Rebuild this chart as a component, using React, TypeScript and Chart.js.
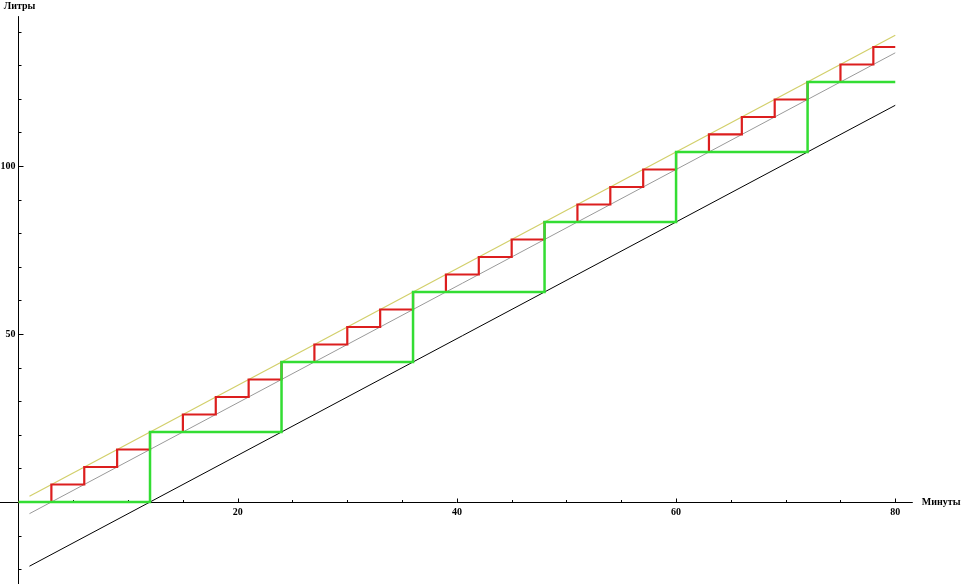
import React, { useEffect, useRef } from "react";
import { Chart, registerables } from "chart.js";

Chart.register(...registerables);

// Red step function: jump every 3 minutes
const redTimes = [0, 3, 6, 9, 12, 15, 18, 21, 24, 27, 30, 33, 36, 39, 42, 45, 48, 51, 54, 57, 60, 63, 66, 69, 72, 75, 78, 80];
const redValues = [0, 5.21, 10.42, 15.63, 20.83, 26.04, 31.25, 36.46, 41.67, 46.88, 52.08, 57.29, 62.5, 67.71, 72.92, 78.13, 83.33, 88.54, 93.75, 98.96, 104.17, 109.38, 114.58, 119.79, 125, 130.21, 135.42, 135.42];

// Green step function: jump every 12 minutes
const greenTimes = [0, 12, 24, 36, 48, 60, 72, 80];
const greenValues = [0, 20.83, 41.67, 62.5, 83.33, 104.17, 125, 125];

// Straight lines (start and end points)
const lineTimes = [1, 80];
const yellowValues = [1.74, 138.89];
const grayValues = [-3.47, 133.68];
const blackValues = [-19.1, 118.06];

// Axis ticks
const xMajorTicks = [20, 40, 60, 80];
const xMinorTicks = [5, 10, 15, 25, 30, 35, 45, 50, 55, 65, 70, 75];
const yMajorTicks = [50, 100];
const yMinorTicks = [-20, -10, 10, 20, 30, 40, 60, 70, 80, 90, 110, 120, 130, 140];
const xAxisLabel = "Минуты";
const yAxisLabel = "Литры";

const toPts = (xs: number[], ys: number[]) => xs.map((t, i) => ({ x: t, y: ys[i] }));

const FONT = "bold 10px 'Liberation Serif', 'DejaVu Serif', serif";

const axesPlugin = {
  id: "mmaAxes",
  beforeDatasetsDraw(chart: any) {
    const { ctx, scales } = chart;
    const xs = scales.x;
    const ys = scales.y;
    const x0 = Math.round(xs.getPixelForValue(0)) + 0.5;
    const y0 = Math.round(ys.getPixelForValue(0)) + 0.5;
    const xEnd = xs.getPixelForValue(81.6);
    const yTop = ys.getPixelForValue(144.6);
    ctx.save();
    ctx.strokeStyle = "#000";
    ctx.lineWidth = 1;
    ctx.beginPath();
    ctx.moveTo(xs.left, y0);
    ctx.lineTo(xEnd, y0);
    ctx.moveTo(x0, yTop);
    ctx.lineTo(x0, ys.bottom);
    // x ticks (upward)
    xMajorTicks.forEach((v) => {
      const p = Math.round(xs.getPixelForValue(v)) + 0.5;
      ctx.moveTo(p, y0);
      ctx.lineTo(p, y0 - 4);
    });
    xMinorTicks.forEach((v) => {
      const p = Math.round(xs.getPixelForValue(v)) + 0.5;
      ctx.moveTo(p, y0);
      ctx.lineTo(p, y0 - 2.5);
    });
    // y ticks (rightward)
    yMajorTicks.forEach((v) => {
      const p = Math.round(ys.getPixelForValue(v)) + 0.5;
      ctx.moveTo(x0, p);
      ctx.lineTo(x0 + 5, p);
    });
    yMinorTicks.forEach((v) => {
      const p = Math.round(ys.getPixelForValue(v)) + 0.5;
      ctx.moveTo(x0, p);
      ctx.lineTo(x0 + 3, p);
    });
    ctx.stroke();

    ctx.fillStyle = "#000";
    ctx.font = FONT;
    ctx.textAlign = "center";
    ctx.textBaseline = "top";
    xMajorTicks.forEach((v) => {
      ctx.fillText(String(v), xs.getPixelForValue(v), y0 + 5);
    });
    ctx.textAlign = "right";
    ctx.textBaseline = "middle";
    yMajorTicks.forEach((v) => {
      ctx.fillText(String(v), x0 - 3, ys.getPixelForValue(v));
    });
    ctx.textAlign = "left";
    ctx.textBaseline = "middle";
    ctx.fillText(xAxisLabel, xEnd + 9, y0);
    ctx.textAlign = "center";
    ctx.fillText(yAxisLabel, x0 + 1, yTop - 10);
    ctx.restore();
  },
};

export default function App() {
  const ref = useRef<HTMLCanvasElement | null>(null);
  useEffect(() => {
    if (!ref.current) return;
    // Chart.js draws dataset 0 on top, so the list runs from top to bottom.
    const chart = new Chart(ref.current, {
      type: "scatter",
      data: {
        datasets: [
          {
            data: toPts(greenTimes, greenValues),
            showLine: true,
            stepped: "before",
            borderColor: "#33dd33",
            borderWidth: 2.5,
            pointRadius: 0,
          },
          {
            data: toPts(redTimes, redValues),
            showLine: true,
            stepped: "before",
            borderColor: "#dc1e1e",
            borderWidth: 2.2,
            pointRadius: 0,
          },
          {
            data: toPts(lineTimes, yellowValues),
            showLine: true,
            borderColor: "#d2cf6a",
            borderWidth: 1.2,
            pointRadius: 0,
          },
          {
            data: toPts(lineTimes, grayValues),
            showLine: true,
            borderColor: "#9a9a9a",
            borderWidth: 1,
            pointRadius: 0,
          },
          {
            data: toPts(lineTimes, blackValues),
            showLine: true,
            borderColor: "#000000",
            borderWidth: 1,
            pointRadius: 0,
          },
        ] as any,
      },
      options: {
        animation: false,
        responsive: false,
        maintainAspectRatio: false,
        layout: { padding: 0 },
        plugins: { legend: { display: false }, tooltip: { enabled: false } },
        scales: {
          x: { type: "linear", min: -1.688, max: 86.09, display: false },
          y: { type: "linear", min: -24.4, max: 149.4, display: false },
        },
      },
      plugins: [axesPlugin],
    });
    return () => chart.destroy();
  }, []);
  return (
    <div style={{ position: "fixed", left: 0, top: 0, width: 962, height: 584, background: "#fff" }}>
      <canvas ref={ref} width={962} height={584} style={{ display: "block" }} />
    </div>
  );
}
